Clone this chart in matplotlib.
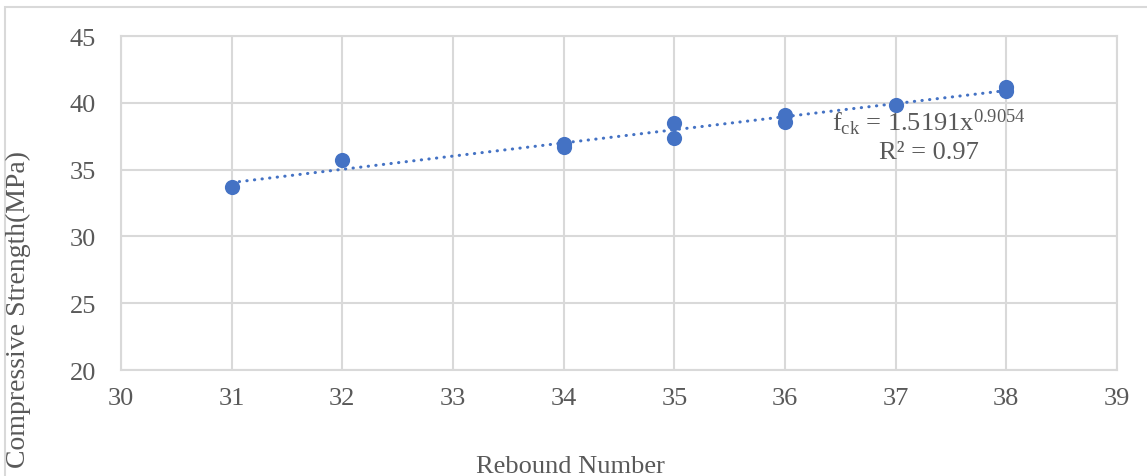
import matplotlib.pyplot as plt
import numpy as np
from matplotlib.patches import Rectangle

plt.rcParams['font.family'] = 'Liberation Serif'
plt.rcParams['mathtext.fontset'] = 'custom'
plt.rcParams['mathtext.rm'] = 'Liberation Serif'
plt.rcParams['mathtext.it'] = 'Liberation Serif'

rebound = [31, 32, 34, 34, 35, 35, 36, 36, 37, 38, 38]
strength = [33.7, 35.7, 36.9, 36.7, 38.5, 37.4, 39.1, 38.6, 39.8, 41.2, 40.9]

# power trendline coefficients
coef_a = 1.5191
coef_b = 0.9054
r_squared = 0.97

x_ticks = [30, 31, 32, 33, 34, 35, 36, 37, 38, 39]
y_ticks = [20, 25, 30, 35, 40, 45]

text_gray = '#595959'
grid_gray = '#d9d9d9'
blue = '#4472C4'
fs = 19

fig = plt.figure(figsize=(11.47, 4.77), dpi=100)
ax = fig.add_axes([121 / 1147, 1 - 371 / 477, (1117 - 121) / 1147, (371 - 37) / 477])

# outer chart frame
fig.patches.append(Rectangle((5 / 1147, -0.2), 1.2, 1.2 - 8 / 477, transform=fig.transFigure,
                             fill=False, edgecolor=grid_gray, linewidth=1.5))

xs = np.linspace(min(rebound), max(rebound), 200)
ax.plot(xs, coef_a * xs ** coef_b, color=blue, linewidth=2.2,
        linestyle=(0, (0.1, 2.4)), dash_capstyle='round', zorder=2)
ax.scatter(rebound, strength, s=120, color=blue, zorder=3, linewidths=0)

ax.set_xlim(30, 39)
ax.set_ylim(20, 45)
ax.set_xticks(x_ticks)
ax.set_yticks(y_ticks)
ax.tick_params(length=0, labelsize=fs, labelcolor=text_gray)
ax.tick_params(axis='y', pad=18)
ax.tick_params(axis='x', pad=12)
ax.grid(True, color=grid_gray, linewidth=1.5)
ax.set_axisbelow(True)
for sp in ax.spines.values():
    sp.set_color(grid_gray)
    sp.set_linewidth(1.5)

ax.text(37.3, 38.6, r'f$_{\mathregular{ck}}$ = %.4fx$^{%.4f}$' % (coef_a, coef_b),
        color=text_gray, fontsize=fs, ha='center', va='center')
ax.text(37.3, 36.35, 'R² = %.2f' % r_squared,
        color=text_gray, fontsize=fs, ha='center', va='center')

fig.text(570 / 1147, 1 - 467 / 477, 'Rebound Number', color=text_gray,
         fontsize=fs, ha='center', va='center')
fig.text(18 / 1147, 1 - 310 / 477, 'Compressive Strength(MPa)', color=text_gray,
         fontsize=fs + 1, rotation=90, ha='center', va='center')

fig.savefig('out.png', dpi=100)
